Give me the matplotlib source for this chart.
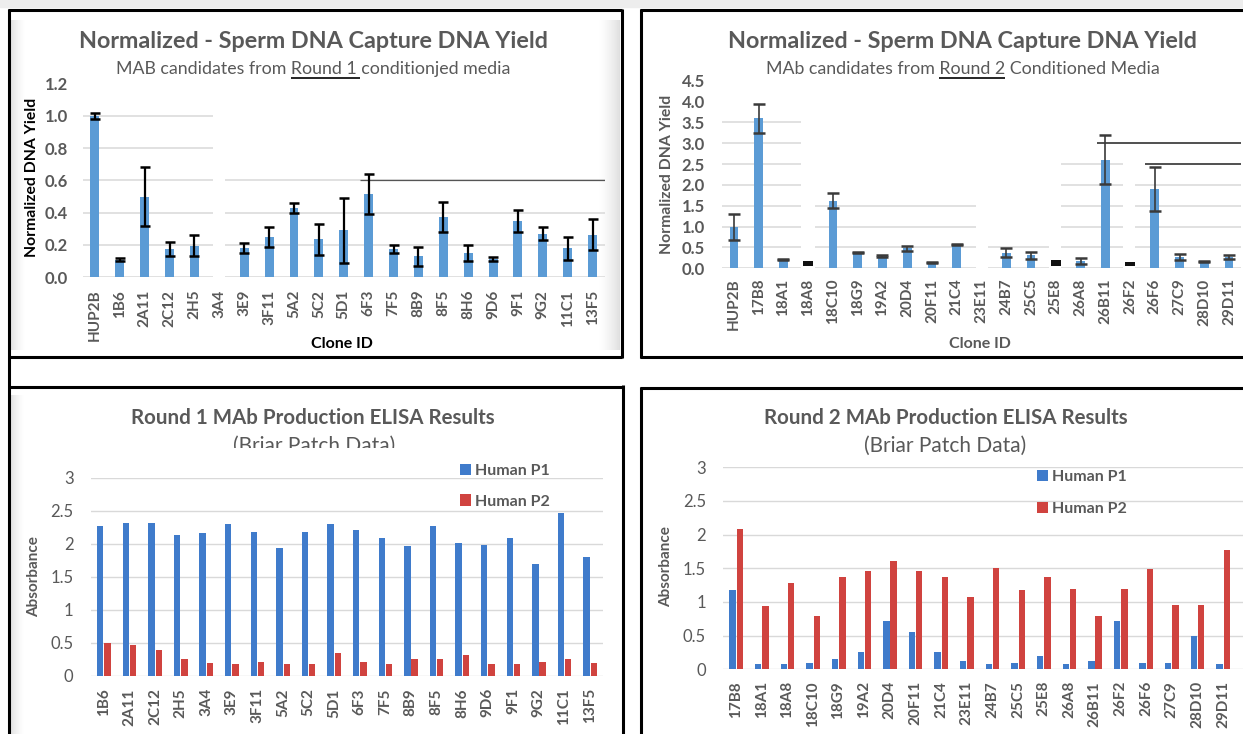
import numpy as np
import matplotlib
matplotlib.use("Agg")
import matplotlib.pyplot as plt
from matplotlib.lines import Line2D
from matplotlib.patches import Rectangle
from matplotlib.transforms import Bbox, TransformedBbox

plt.rcParams['font.family'] = ['Lato', 'DejaVu Sans']

W, H = 1243, 734
DPI = 100
nan = np.nan

# ---------------- data ----------------
r1_clones = ["HUP2B", "1B6", "2A11", "2C12", "2H5", "3A4", "3E9", "3F11", "5A2", "5C2",
             "5D1", "6F3", "7F5", "8B9", "8F5", "8H6", "9D6", "9F1", "9G2", "11C1", "13F5"]
r1_yield = [1.00, 0.11, 0.50, 0.175, 0.195, nan, 0.18, 0.25, 0.43, 0.235,
            0.29, 0.515, 0.175, 0.13, 0.375, 0.15, 0.113, 0.348, 0.27, 0.18, 0.265]
r1_err = [0.02, 0.008, 0.18, 0.046, 0.065, nan, 0.03, 0.06, 0.03, 0.096,
          0.20, 0.125, 0.025, 0.06, 0.093, 0.05, 0.014, 0.069, 0.04, 0.07, 0.095]

r2_clones = ["HUP2B", "17B8", "18A1", "18A8", "18C10", "18G9", "19A2", "20D4", "20F11", "21C4",
             "23E11", "24B7", "25C5", "25E8", "26A8", "26B11", "26F2", "26F6", "27C9", "28D10", "29D11"]
r2_yield = [1.00, 3.60, 0.21, nan, 1.62, 0.38, 0.29, 0.48, 0.15, 0.58,
            nan, 0.37, 0.31, nan, 0.18, 2.61, nan, 1.90, 0.28, 0.17, 0.27]
r2_err = [0.31, 0.35, 0.012, nan, 0.18, 0.02, 0.02, 0.06, 0.012, 0.01,
          nan, 0.11, 0.09, nan, 0.07, 0.58, nan, 0.53, 0.07, 0.01, 0.05]
# clones blacked out in the source image
r2_masked = ["18A8", "25E8", "26F2"]
r2_masked_top = [0.18, 0.19, 0.14]
r2_masked_bottom = [0.06, 0.05, 0.05]

e1_clones = ["1B6", "2A11", "2C12", "2H5", "3A4", "3E9", "3F11", "5A2", "5C2", "5D1",
             "6F3", "7F5", "8B9", "8F5", "8H6", "9D6", "9F1", "9G2", "11C1", "13F5"]
e1_p1 = [2.27, 2.32, 2.32, 2.13, 2.16, 2.30, 2.18, 1.93, 2.18, 2.30,
         2.21, 2.08, 1.965, 2.27, 2.01, 1.985, 2.08, 1.69, 2.47, 1.80]
e1_p2 = [0.49, 0.46, 0.39, 0.25, 0.20, 0.17, 0.21, 0.17, 0.17, 0.34,
         0.21, 0.17, 0.26, 0.26, 0.31, 0.17, 0.17, 0.21, 0.26, 0.20]

e2_clones = ["17B8", "18A1", "18A8", "18C10", "18G9", "19A2", "20D4", "20F11", "21C4", "23E11",
             "24B7", "25C5", "25E8", "26A8", "26B11", "26F2", "26F6", "27C9", "28D10", "29D11"]
e2_p1 = [1.18, 0.074, 0.074, 0.10, 0.15, 0.25, 0.72, 0.55, 0.26, 0.12,
         0.074, 0.10, 0.20, 0.074, 0.12, 0.72, 0.10, 0.10, 0.50, 0.074]
e2_p2 = [2.085, 0.94, 1.28, 0.79, 1.37, 1.465, 1.61, 1.465, 1.37, 1.08,
         1.51, 1.18, 1.37, 1.19, 0.79, 1.19, 1.485, 0.955, 0.955, 1.77]

# ---------------- style ----------------
GRAY = '#595959'
GRID = '#D9D9D9'
BAR = '#5B9BD5'
P1C = '#3F7BCB'
P2C = '#D0433F'

fig = plt.figure(figsize=(W / DPI, H / DPI), dpi=DPI)
fig.patch.set_facecolor('white')


def fx(x):
    return x / W


def fy(y):
    return 1 - y / H


def px_axes(l, t, r, b):
    ax = fig.add_axes([fx(l), fy(b), (r - l) / W, (b - t) / H])
    for s in ax.spines.values():
        s.set_visible(False)
    ax.set_facecolor('none')
    return ax


def line_px(xs, ys, lw=2.2, color='black'):
    fig.add_artist(Line2D([fx(v) for v in xs], [fy(v) for v in ys], lw=lw,
                          color=color, transform=fig.transFigure, solid_capstyle='butt'))


def shadow(l, t, r, b, flip=False):
    sax = fig.add_axes([fx(l), fy(b), (r - l) / W, (b - t) / H], zorder=-1)
    sax.set_axis_off()
    g = np.linspace(1, 0, 64) ** 1.5
    if flip:
        g = g[::-1]
    rgba = np.zeros((1, 64, 4))
    rgba[..., :3] = 0.55
    rgba[..., 3] = 0.28 * g
    sax.imshow(rgba, aspect='auto', extent=(0, 1, 0, 1))


renderer = fig.canvas.get_renderer()


def text_width(s, **kw):
    t = fig.text(0, 0, s, **kw)
    w = t.get_window_extent(renderer).width
    t.remove()
    return w


def subtitle(cx, base, prefix, under, suffix, size, uy, extra=0):
    kw = dict(fontsize=size, color=GRAY)
    t = fig.text(fx(cx), fy(base), prefix + under + suffix, ha='center', va='baseline', **kw)
    bb = t.get_window_extent(renderer)
    w_all = text_width(prefix + under, **kw)
    w_u = text_width(under, **kw)
    x0 = bb.x0 + w_all - w_u
    x1 = bb.x0 + w_all + extra
    line_px([x0, x1], [uy, uy], lw=1.4, color='#262626')


# ---------------- frames ----------------
fig.add_artist(Rectangle((0, fy(7)), 1, 7 / H, transform=fig.transFigure,
                         color='#EDEDED', zorder=0))
shadow(10, 20, 26, 350)
shadow(10, 395, 24, 734)
shadow(598, 20, 620, 350, flip=True)
line_px([8, 621.5], [10, 10])
line_px([8, 621.5], [356.7, 356.7])
line_px([8.5, 8.5], [9, 734])
line_px([621.5, 621.5], [9, 357.8])
line_px([640, 1243], [10, 10])
line_px([640, 1243], [356.7, 356.7])
line_px([640.5, 640.5], [9, 357.8])
line_px([8, 623], [386.5, 386.5])
line_px([623, 623], [385.5, 734])
line_px([640, 1243], [388.3, 388.3])
line_px([640.5, 640.5], [387.2, 734])


def seg_grid(ax, levels, segs, color=GRID, lw=1.1):
    for y, ids in levels:
        for i in ids:
            a, b = segs[i]
            ax.hlines(y, a, b, color=color, lw=lw, zorder=1)


TICK_X = 11

# ---------------- top-left ----------------
ax1 = px_axes(82.5, 83.5, 605, 277.3)
x1 = np.arange(len(r1_clones))
v1 = np.array(r1_yield)
e1 = np.array(r1_err)
m1 = ~np.isnan(v1)
ax1.set_xlim(-0.5, len(r1_clones) - 0.5)
ax1.set_ylim(0, 1.2)
segsA = [(-0.5, 4.74), (5.22, 20.5)]
seg_grid(ax1, [(1.0, [0]), (0.8, [0]), (0.6, [0, 1]), (0.4, [0, 1]), (0.2, [0, 1]), (0.0, [0, 1])], segsA)
ax1.hlines(0.6, 10.64, 20.5, color='#555555', lw=0.9, zorder=1)
ax1.bar(x1[m1], v1[m1], width=0.36, color=BAR, zorder=2)
ax1.errorbar(x1[m1], v1[m1], yerr=e1[m1], fmt='none', ecolor='black', elinewidth=1.6,
             capsize=3.6, capthick=1.8, zorder=3)
ax1.set_yticks(np.arange(0, 1.21, 0.2))
ax1.set_yticklabels([f"{v:.1f}" for v in np.arange(0, 1.21, 0.2)], fontweight='bold', color=GRAY, fontsize=12)
ax1.set_xticks(x1)
ax1.set_xticklabels(r1_clones, rotation=90, fontweight='bold', color=GRAY, fontsize=TICK_X)
ax1.tick_params(axis='y', length=0, pad=10.4)
ax1.tick_params(axis='x', length=0, pad=9)

fig.text(fx(313), fy(47.7), "Normalized - Sperm DNA Capture DNA Yield", ha='center', va='baseline',
         fontsize=16.8, fontweight='bold', color=GRAY)
subtitle(313, 74, "MAB candidates from ", "Round 1", " conditionjed media", 12.8, 78.3, extra=3)
fig.text(fx(32), fy(177.5), "Normalized DNA Yield", rotation=90, ha='center', va='center',
         fontsize=11.3, fontweight='bold', color='black')
fig.text(fx(342), fy(348.3), "Clone ID", ha='center', va='baseline',
         fontsize=11.5, fontweight='bold', color='black')

# ---------------- top-right ----------------
ax2 = px_axes(721.6, 80.8, 1241.4, 268.3)
x2 = np.arange(len(r2_clones))
v2 = np.array(r2_yield)
e2 = np.array(r2_err)
m2 = ~np.isnan(v2)
ax2.set_xlim(-0.5, len(r2_clones) - 0.5)
ax2.set_ylim(0, 4.5)
segsB = [(-0.5, 2.70), (3.26, 9.77), (10.25, 12.73), (13.23, 15.71), (16.19, 20.5)]
seg_grid(ax2, [(3.5, [0]), (3.0, [0]), (2.5, [0, 3]), (2.0, [0, 3, 4]),
               (1.5, [0, 1, 3, 4]), (1.0, [0, 1, 3, 4]), (0.5, [0, 1, 2, 3, 4]),
               (0.0, [0, 1, 2, 3, 4])], segsB)
ax2.hlines(3.0, 14.67, 20.5, color='#505050', lw=1.4, zorder=1)
ax2.hlines(2.5, 16.59, 20.5, color='#505050', lw=1.4, zorder=1)
ax2.bar(x2[m2], v2[m2], width=0.35, color=BAR, zorder=2)
ax2.errorbar(x2[m2], v2[m2], yerr=e2[m2], fmt='none', ecolor='#3a3a3a', elinewidth=1.2,
             capsize=4.3, capthick=1.8, zorder=3)
mpos = [r2_clones.index(c) for c in r2_masked]
ax2.bar(mpos, np.array(r2_masked_top) - np.array(r2_masked_bottom), bottom=r2_masked_bottom,
        width=0.4, color='#111111', zorder=3)
yt2 = np.arange(0, 4.51, 0.5)
ax2.set_yticks(yt2)
ax2.set_yticklabels([f"{v:.1f}" for v in yt2], fontweight='bold', color=GRAY, fontsize=12)
ax2.set_xticks(x2)
ax2.set_xticklabels(r2_clones, rotation=90, fontweight='bold', color=GRAY, fontsize=TICK_X)
ax2.tick_params(axis='y', length=0, pad=12)
ax2.tick_params(axis='x', length=0, pad=7.2)

fig.text(fx(962.7), fy(47.7), "Normalized - Sperm DNA Capture DNA Yield", ha='center', va='baseline',
         fontsize=16.8, fontweight='bold', color=GRAY)
subtitle(963, 74, "MAb candidates from ", "Round 2", " Conditioned Media", 12.8, 78.3)
fig.text(fx(666.7), fy(174), "Normalized DNA Yield", rotation=90, ha='center', va='center',
         fontsize=11.3, fontweight='bold', color=GRAY)
fig.text(fx(980), fy(348.3), "Clone ID", ha='center', va='baseline',
         fontsize=11.5, fontweight='bold', color=GRAY)


# ---------------- ELISA panels ----------------
def elisa(ax, clones, p1, p2, xr, pad_x, leg_xy, spacing):
    x = np.arange(len(clones))
    ax.set_xlim(-0.5, xr)
    ax.set_ylim(0, 3)
    ax.set_axisbelow(True)
    ax.grid(axis='y', color=GRID, lw=1.0)
    b1 = ax.bar(x - 0.135, p1, width=0.25, color=P1C, zorder=2)
    b2 = ax.bar(x + 0.15, p2, width=0.25, color=P2C, zorder=2)
    yt = np.arange(0, 3.01, 0.5)
    ax.set_yticks(yt)
    ax.set_yticklabels([f"{v:g}" for v in yt], color=GRAY, fontsize=12)
    ax.set_xticks(x)
    ax.set_xticklabels(clones, rotation=90, fontweight='bold', color=GRAY, fontsize=TICK_X)
    ax.tick_params(axis='y', length=0, pad=12.5)
    ax.tick_params(axis='x', length=0, pad=pad_x)
    leg = ax.legend([b1, b2], ["Human P1", "Human P2"], loc='upper left',
                    bbox_to_anchor=(fx(leg_xy[0]), fy(leg_xy[1])), bbox_transform=fig.transFigure,
                    frameon=False, borderpad=0, borderaxespad=0, handlelength=0.7, handleheight=0.7,
                    handletextpad=0.25, labelspacing=spacing, prop={'weight': 'bold', 'size': 11.5})
    for t in leg.get_texts():
        t.set_color(GRAY)


ax3 = px_axes(90.9, 477.7, 602.8, 675.7)
elisa(ax3, e1_clones, e1_p1, e1_p2, len(e1_clones) - 0.5, 9, (460, 463.5), 1.05)
fig.text(fx(313), fy(424), "Round 1 MAb Production ELISA Results", ha='center', va='baseline',
         fontsize=14.8, fontweight='bold', color=GRAY)
st = fig.text(fx(314), fy(452), "(Briar Patch Data)", ha='center', va='baseline',
              fontsize=15, color=GRAY)
st.set_clip_box(TransformedBbox(Bbox.from_extents(0, fy(448.3), 1, 1), fig.transFigure))
st.set_clip_on(True)
fig.text(fx(33.6), fy(576.7), "Absorbance", rotation=90, ha='center', va='center',
         fontsize=11, fontweight='bold', color=GRAY)

ax4 = px_axes(723.2, 467.3, 1243, 669.3)
elisa(ax4, e2_clones, e2_p1, e2_p2, 19.78, 8.4, (1037, 469.5), 1.12)
fig.text(fx(945.8), fy(424), "Round 2 MAb Production ELISA Results", ha='center', va='baseline',
         fontsize=14.8, fontweight='bold', color=GRAY)
fig.text(fx(945.6), fy(452), "(Briar Patch Data)", ha='center', va='baseline',
         fontsize=15, color=GRAY)
fig.text(fx(665.7), fy(566.7), "Absorbance", rotation=90, ha='center', va='center',
         fontsize=11, fontweight='bold', color=GRAY)

fig.savefig("out.png", dpi=DPI, facecolor='white')
